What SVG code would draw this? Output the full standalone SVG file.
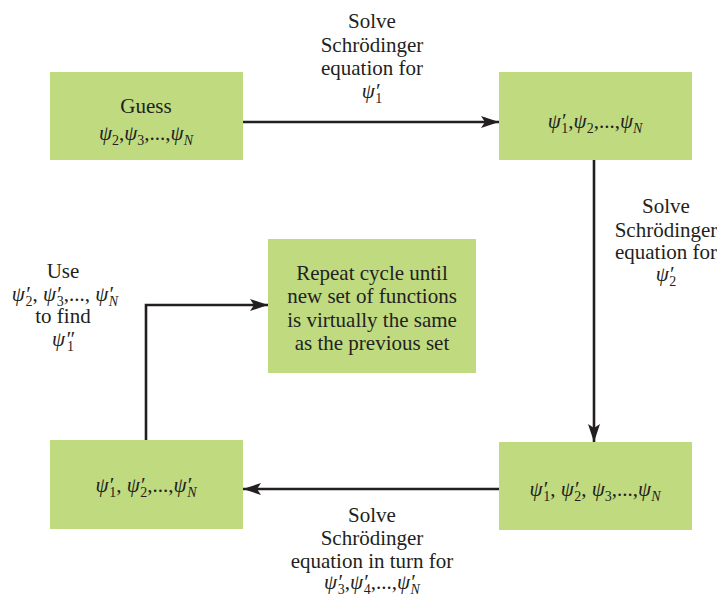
<svg xmlns="http://www.w3.org/2000/svg" width="717" height="597" viewBox="0 0 717 597">
  <defs>
    <marker id="ah" markerUnits="userSpaceOnUse" markerWidth="20" markerHeight="14" refX="18" refY="6" orient="auto">
      <path d="M0,0 L18,6 L0,12 L4,6 Z" fill="#231f20"/>
    </marker>
    <style>
      .box { fill: #c0da80; }
      .t { font-family: "Liberation Serif", "Times New Roman", serif; font-size: 21px; fill: #231f20; text-anchor: middle; }
      .i { font-style: italic; }
      .sb { font-size: 14px; baseline-shift: -5px; }
      .sbi { font-size: 14px; baseline-shift: -5px; font-style: italic; }
      .ln { fill: none; stroke: #231f20; stroke-width: 2.6; }
    </style>
  </defs>
  <rect width="717" height="597" fill="#ffffff"/>

  <!-- connectors -->
  <g id="connectors">
    <path class="ln" d="M243,122 H499" marker-end="url(#ah)"/>
    <path class="ln" d="M594,160 V442" marker-end="url(#ah)"/>
    <path class="ln" d="M499,489 H243" marker-end="url(#ah)"/>
    <path class="ln" d="M146,440 V305 H268" marker-end="url(#ah)"/>
  </g>

  <!-- connector labels -->
  <g id="label-top">
    <text class="t" x="372" y="28">Solve</text>
    <text class="t" x="372" y="52">Schrödinger</text>
    <text class="t" x="372" y="75">equation for</text>
    <text class="t" x="372" y="98"><tspan class="i">ψ′</tspan><tspan class="sb" dx="-4">1</tspan></text>
  </g>
  <g id="label-right">
    <text class="t" x="666" y="213">Solve</text>
    <text class="t" x="666" y="237">Schrödinger</text>
    <text class="t" x="666" y="259">equation for</text>
    <text class="t" x="666" y="281"><tspan class="i">ψ′</tspan><tspan class="sb" dx="-4">2</tspan></text>
  </g>
  <g id="label-bottom">
    <text class="t" x="372" y="522">Solve</text>
    <text class="t" x="372" y="545">Schrödinger</text>
    <text class="t" x="372" y="568">equation in turn for</text>
    <text class="t" x="372" y="589"><tspan class="i">ψ′</tspan><tspan class="sb" dx="-4">3</tspan>,<tspan class="i">ψ′</tspan><tspan class="sb" dx="-4">4</tspan>,...,<tspan class="i">ψ′</tspan><tspan class="sbi" dx="-4">N</tspan></text>
  </g>
  <g id="label-left">
    <text class="t" x="63" y="278">Use</text>
    <text class="t" x="65" y="301"><tspan class="i">ψ′</tspan><tspan class="sb" dx="-4">2</tspan>, <tspan class="i">ψ′</tspan><tspan class="sb" dx="-4">3</tspan>,..., <tspan class="i">ψ′</tspan><tspan class="sbi" dx="-4">N</tspan></text>
    <text class="t" x="63" y="323">to find</text>
    <text class="t" x="63" y="346"><tspan class="i">ψ″</tspan><tspan class="sb" dx="-7">1</tspan></text>
  </g>

  <!-- nodes -->
  <g id="guess">
    <rect class="box" x="50" y="72" width="193" height="88"/>
    <text class="t" x="146" y="113">Guess</text>
    <text class="t" x="146" y="140"><tspan class="i">ψ</tspan><tspan class="sb">2</tspan>,<tspan class="i">ψ</tspan><tspan class="sb">3</tspan>,...,<tspan class="i">ψ</tspan><tspan class="sbi">N</tspan></text>
  </g>
  <g id="set1">
    <rect class="box" x="499" y="72" width="193" height="88"/>
    <text class="t" x="595" y="128"><tspan class="i">ψ′</tspan><tspan class="sb" dx="-4">1</tspan>,<tspan class="i">ψ</tspan><tspan class="sb">2</tspan>,...,<tspan class="i">ψ</tspan><tspan class="sbi">N</tspan></text>
  </g>
  <g id="set2">
    <rect class="box" x="499" y="442" width="193" height="88"/>
    <text class="t" x="595" y="496"><tspan class="i">ψ′</tspan><tspan class="sb" dx="-4">1</tspan>, <tspan class="i">ψ′</tspan><tspan class="sb" dx="-4">2</tspan>, <tspan class="i">ψ</tspan><tspan class="sb">3</tspan>,...,<tspan class="i">ψ</tspan><tspan class="sbi">N</tspan></text>
  </g>
  <g id="set-all">
    <rect class="box" x="50" y="440" width="193" height="89"/>
    <text class="t" x="146" y="492"><tspan class="i">ψ′</tspan><tspan class="sb" dx="-4">1</tspan>, <tspan class="i">ψ′</tspan><tspan class="sb" dx="-4">2</tspan>,...,<tspan class="i">ψ′</tspan><tspan class="sbi" dx="-4">N</tspan></text>
  </g>
  <g id="repeat">
    <rect class="box" x="268" y="239" width="208" height="134"/>
    <text class="t" x="372" y="280">Repeat cycle until</text>
    <text class="t" x="372" y="303">new set of functions</text>
    <text class="t" x="372" y="327">is virtually the same</text>
    <text class="t" x="372" y="350">as the previous set</text>
  </g>
</svg>
